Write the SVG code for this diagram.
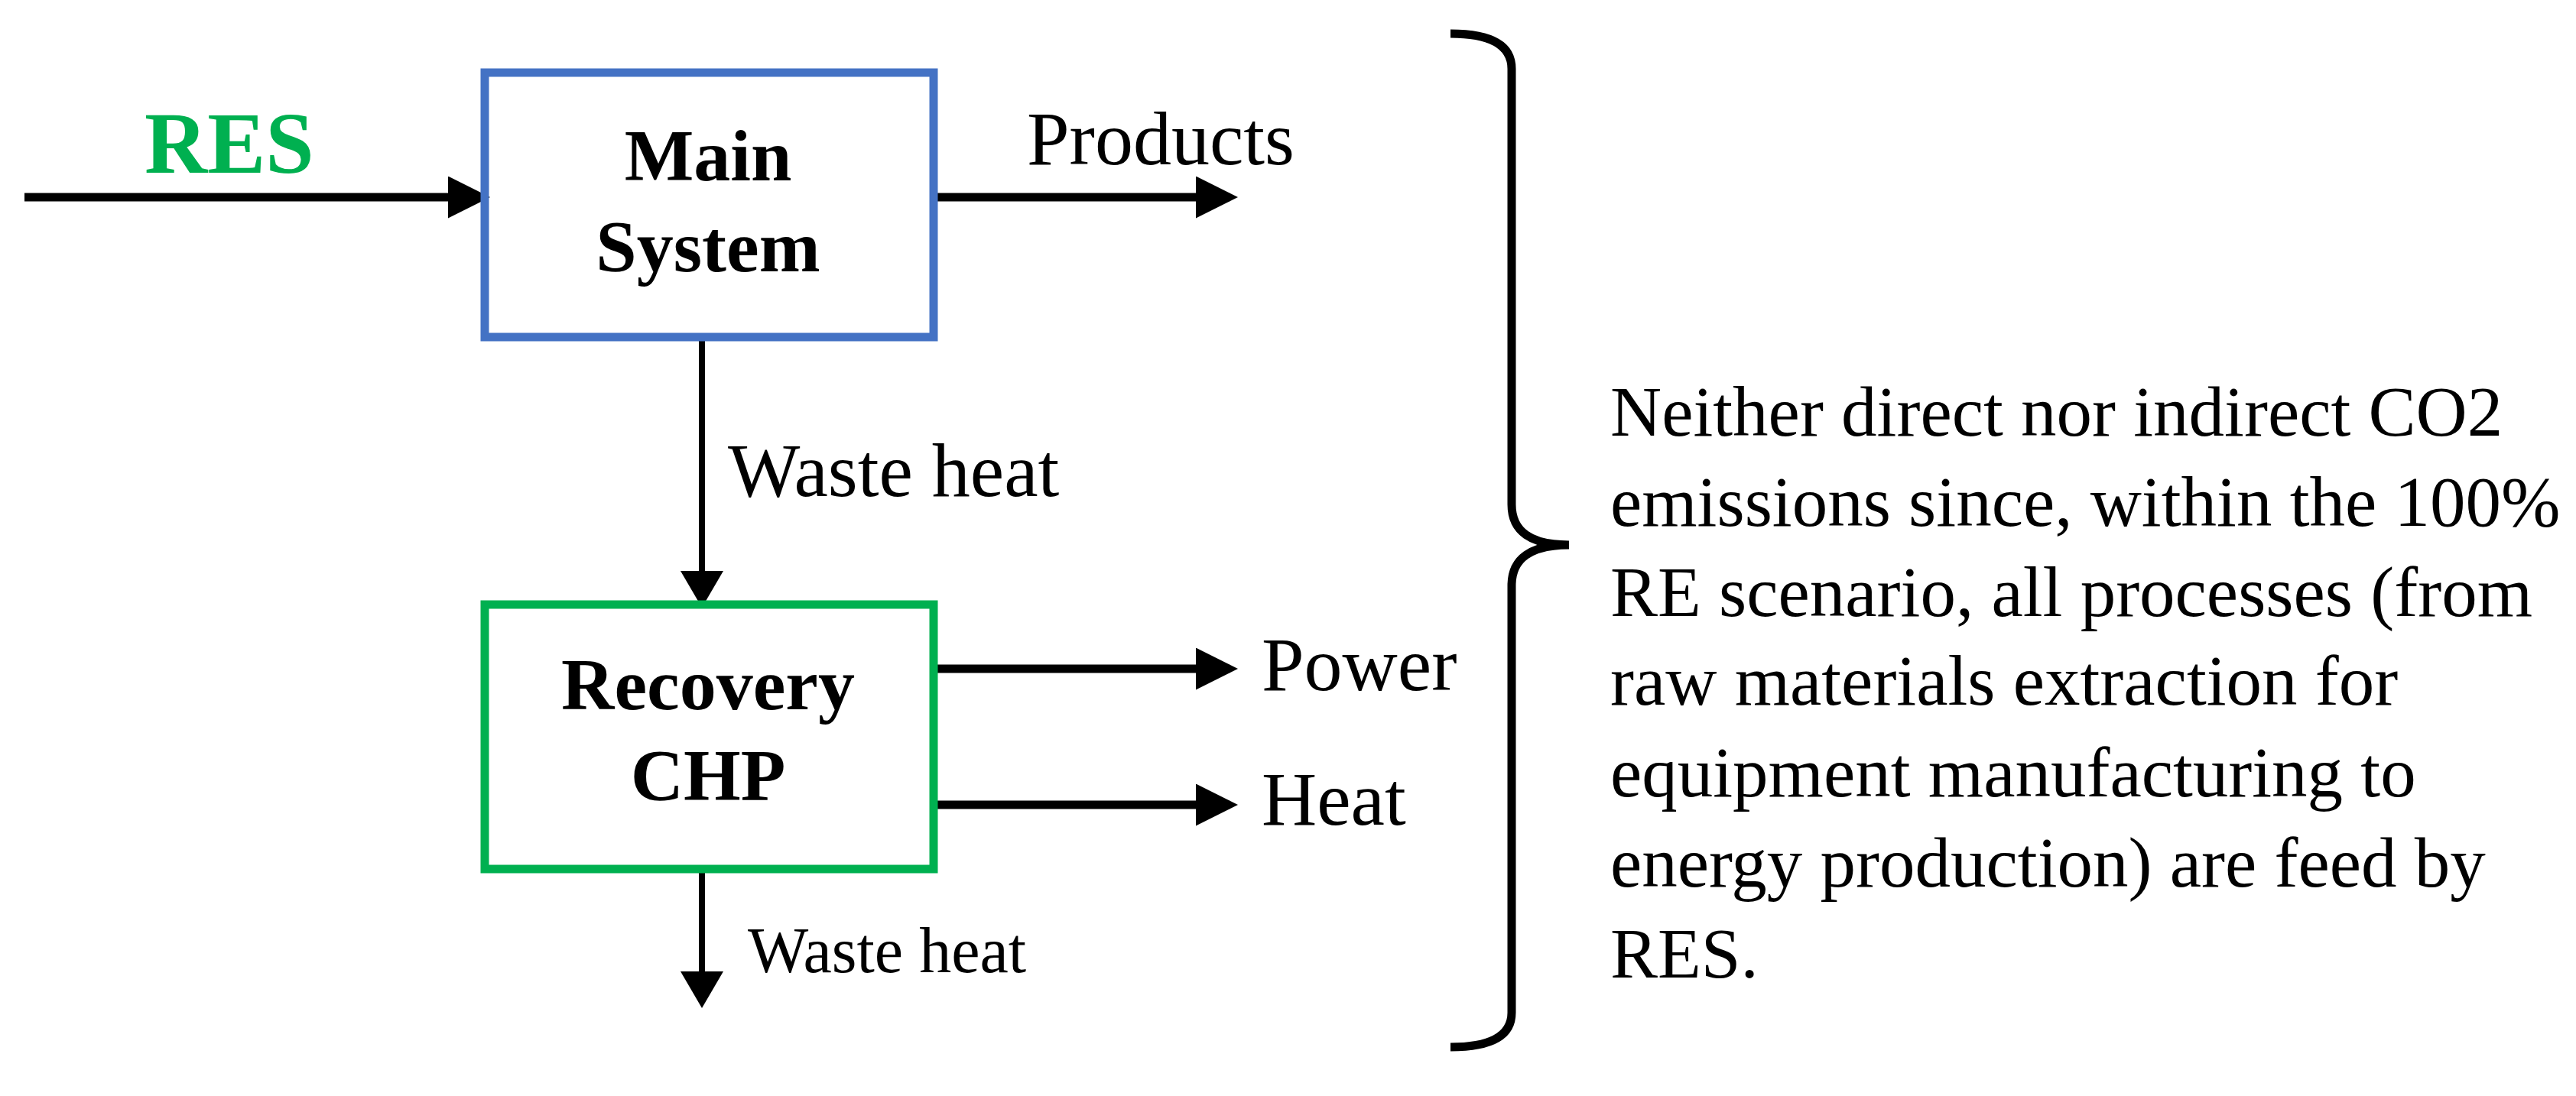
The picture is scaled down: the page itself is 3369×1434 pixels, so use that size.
<svg xmlns="http://www.w3.org/2000/svg" width="3369" height="1434" viewBox="0 0 3369 1434">
<style>
text{font-family:"Liberation Serif","DejaVu Serif",serif;fill:#000}
.b{font-weight:bold;font-size:96px;text-anchor:middle}
.l{font-size:100px}
.p{font-size:93px}
.t{stroke:#000;stroke-width:11;fill:none}
.n{stroke:#000;stroke-width:8;fill:none}
</style>
<defs>
<marker id="a" markerWidth="5" markerHeight="5" refX="4" refY="2.5" orient="auto" markerUnits="strokeWidth"><path d="M0,0L5,2.5L0,5z" fill="#000"/></marker>
<marker id="s" markerWidth="6" markerHeight="7" refX="5" refY="3.5" orient="auto" markerUnits="strokeWidth"><path d="M0,0L6,3.5L0,7z" fill="#000"/></marker>
</defs>
<rect width="3369" height="1434" fill="#fff"/>
<g id="connectors">
<line class="t" x1="32" y1="258" x2="630" y2="258" marker-end="url(#a)"/>
<line class="t" x1="1221" y1="258" x2="1608" y2="258" marker-end="url(#a)"/>
<line class="n" x1="918" y1="441" x2="918" y2="787" marker-end="url(#s)"/>
<line class="t" x1="1221" y1="875" x2="1608" y2="875" marker-end="url(#a)"/>
<line class="t" x1="1221" y1="1053" x2="1608" y2="1053" marker-end="url(#a)"/>
<line class="n" x1="918" y1="1137" x2="918" y2="1311" marker-end="url(#s)"/>
<text x="189" y="226" style="font-weight:bold;font-size:114px;fill:#00b050">RES</text>
<text class="l" x="1343" y="215">Products</text>
<text class="l" x="952" y="649">Waste heat</text>
<text class="l" x="1650" y="903">Power</text>
<text class="l" x="1650" y="1079">Heat</text>
<text x="978" y="1272" style="font-size:84px">Waste heat</text>
</g>
<g id="main">
<rect x="634" y="95" width="587" height="346" fill="none" stroke="#4472c4" stroke-width="11"/>
<text class="b" x="926" y="236">Main</text>
<text class="b" x="926" y="355">System</text>
</g>
<g id="chp">
<rect x="634" y="791" width="587" height="346" fill="none" stroke="#00b050" stroke-width="11"/>
<text class="b" x="926" y="928">Recovery</text>
<text class="b" x="926" y="1047">CHP</text>
</g>
<g id="brace">
<path class="t" d="M1897,44 Q1977,44 1977,90 L1977,660 Q1977,713 2052,713 Q1977,713 1977,766 L1977,1325 Q1977,1370 1897,1370"/>
</g>
<g id="note">
<text class="p" x="2106" y="570">Neither direct nor indirect CO2</text>
<text class="p" x="2106" y="688">emissions since, within the 100%</text>
<text class="p" x="2106" y="806">RE scenario, all processes (from</text>
<text class="p" x="2106" y="922">raw materials extraction for</text>
<text class="p" x="2106" y="1042">equipment manufacturing to</text>
<text class="p" x="2106" y="1160">energy production) are feed by</text>
<text class="p" x="2106" y="1279">RES.</text>
</g>
</svg>
